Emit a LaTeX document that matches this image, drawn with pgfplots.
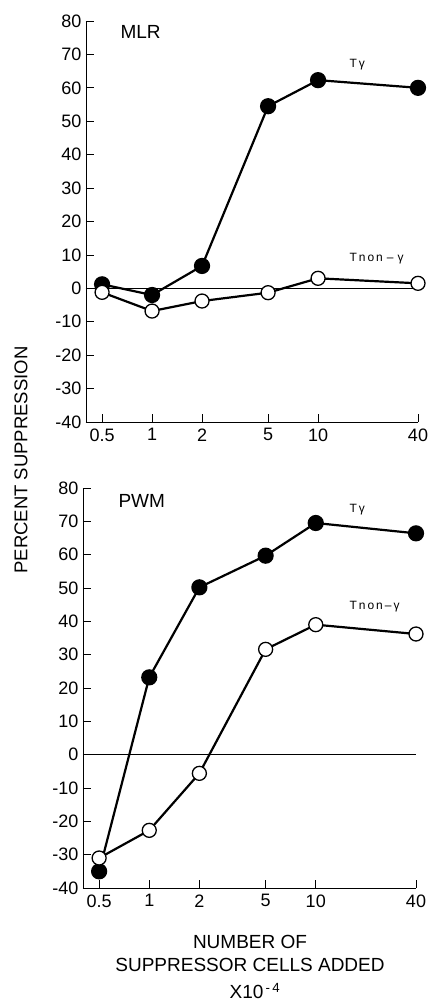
\documentclass[border=0pt]{standalone}
\usepackage{pgfplots}
\pgfplotsset{compat=1.18}
\usepackage{fontspec}
\setmainfont{Liberation Sans}

\pgfplotsset{
  panel/.style={
    scale only axis,
    xmin=0.4, xmax=40, ymin=-40, ymax=80,
    axis lines=left, axis line style={-, line width=0.7pt},
    tick align=inside, major tick length=8pt,
    tick style={line width=0.7pt, black},
    xtick={0.5,1,2,5,10,40}, xticklabels={0.5,1,2,5,10,40},
    xminorticks=false, yminorticks=false,
    ytick={-40,-30,...,80},
    yticklabels={-40,-30,-20,-10,0,10,20,30,40,50,60,70,80},
    ticklabel style={font=\fontsize{18}{18}\selectfont},
    xticklabel style={yshift=-3pt},
    yticklabel style={xshift=-1pt},
    clip=false,
  },
  ty/.style={black, line width=2.2pt, mark=*, mark size=7pt,
    mark options={solid, fill=black}},
  tn/.style={black, line width=2.2pt, mark=*, mark size=7pt,
    mark options={solid, fill=white, line width=1.3pt}},
}

\begin{document}
\begin{tikzpicture}[x=1pt,y=1pt]
\useasboundingbox (0,0) rectangle (430,-1006);

% MLR
\begin{axis}[xmode=log, panel, width=332pt, height=401pt, at={(86pt,-422pt)}, anchor=south west]
  \draw[line width=0.7pt] (axis cs:0.4,0) -- (axis cs:40,0);
  \addplot[ty] coordinates {(0.5,1.2) (1,-2) (2,6.7) (5,54.5) (10,62.3) (40,60)};
  \addplot[tn] coordinates {(0.5,-1.2) (1,-6.8) (2,-3.8) (5,-1.3) (10,3) (40,1.5)};
\end{axis}

% PWM
\begin{axis}[xmode=log, panel, width=333pt, height=400pt, at={(83pt,-888pt)}, anchor=south west]
  \draw[line width=0.7pt] (axis cs:0.4,0) -- (axis cs:40,0);
  \addplot[ty] coordinates {(0.5,-35) (1,23.2) (2,50.2) (5,59.7) (10,69.5) (40,66.4)};
  \addplot[tn] coordinates {(0.5,-31) (1,-22.7) (2,-5.6) (5,31.6) (10,39) (40,36.2)};
\end{axis}

\node[anchor=west, font=\fontsize{19}{19}\selectfont] at (117,-32) {MLR};
\node[anchor=west, font=\fontsize{19}{19}\selectfont] at (115,-501) {PWM};
\node[anchor=west, font=\fontsize{12}{12}\selectfont] at (346,-65) {T\,γ};
\node[anchor=west, font=\fontsize{12}{12}\selectfont] at (346,-259) {T\,n\,o\,n\,\,–\,\,γ};
\node[anchor=west, font=\fontsize{12}{12}\selectfont] at (346,-510) {T\,γ};
\node[anchor=west, font=\fontsize{12}{12}\selectfont] at (346,-607) {T\,n\,o\,n\,–\,γ};

\node[rotate=90, font=\fontsize{18.5}{18.5}\selectfont] at (21,-460) {PERCENT SUPPRESSION};
\node[align=center, font=\fontsize{19}{23}\selectfont] at (250,-953) {NUMBER OF\\SUPPRESSOR CELLS ADDED};
\node[font=\fontsize{19}{19}\selectfont] at (255,-991) {X10\textsuperscript{\,-\,4}};
\end{tikzpicture}
\end{document}
